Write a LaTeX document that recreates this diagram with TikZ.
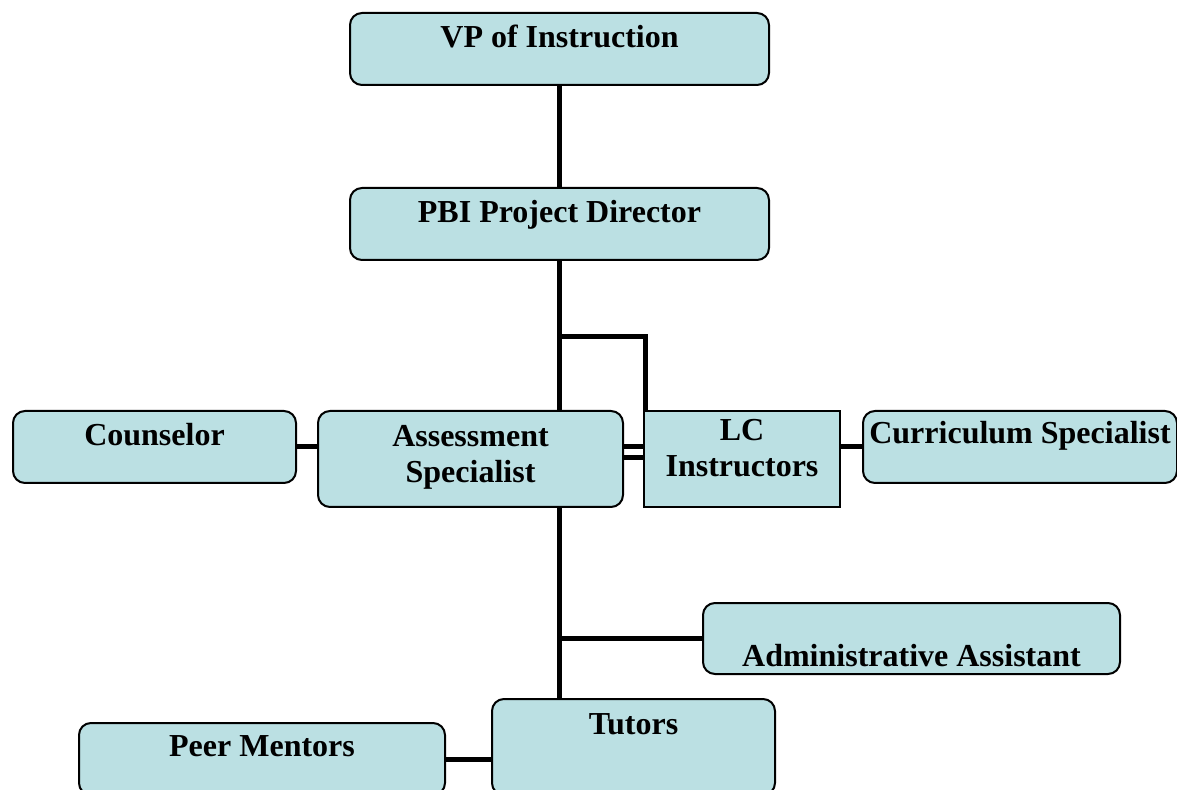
\documentclass[tikz,border=0pt]{standalone}
\usepackage{fontspec}
\setmainfont{Liberation Serif}
\usepackage{xcolor}
\usetikzlibrary{backgrounds}
\definecolor{boxblue}{RGB}{187,224,227}
\tikzset{%
  post/.style={draw=black, fill=boxblue, line width=1pt, inner sep=0pt,
    anchor=north west, font=\fontsize{16}{18}\selectfont\bfseries},
  roundpost/.style={post, rounded corners=6pt},
  link/.style={line width=2.5pt}
}

\begin{document}
\begin{tikzpicture}[x=0.5pt,y=-0.5pt]
\useasboundingbox (0,0) rectangle (1177,790);
\clip (0,0) rectangle (1177,790);
% boxes
\node[roundpost, minimum width=209.5pt, text height=17.5pt, text depth=18.5pt] (vp) at (349,12) {VP of Instruction};
\node[roundpost, minimum width=209.5pt, text height=17.5pt, text depth=18.5pt] (pbi) at (349,187) {PBI Project Director};
\node[roundpost, minimum width=141.5pt, text height=17.5pt, text depth=18.5pt] (counsel) at (12,410) {Counselor};
\node[roundpost, minimum width=152.5pt, text height=18pt, text depth=30pt] (assess) at (317,410)
  {\begin{tabular}[t]{@{}c@{}}Assessment\\Specialist\end{tabular}};
\node[post, minimum width=98pt, text height=15pt, text depth=33pt] (lc) at (643,410)
  {\begin{tabular}[t]{@{}c@{}}LC\\Instructors\end{tabular}};
\node[roundpost, minimum width=157pt, text height=16.5pt, text depth=19.5pt] (curric) at (862,410) {Curriculum Specialist};
\node[roundpost, minimum width=208.5pt, text height=31.5pt, text depth=4pt] (admin) at (702,602) {Administrative Assistant};
\node[roundpost, minimum width=141.5pt, text height=17.5pt, text depth=30.5pt] (tutors) at (491,698) {Tutors};
\node[roundpost, minimum width=183pt, text height=16.5pt, text depth=19.5pt] (peer) at (78,722) {Peer Mentors};
% connectors
\begin{scope}[on background layer]
\draw[link] (vp) -- (pbi);
\draw[link] (pbi.south) -- (pbi.south |- tutors.north);
\draw[link] (pbi.south) ++(0,76) -| ([xshift=1pt]lc.north west);
\draw[link] (counsel.east) -- (counsel.east -| assess.west);
\draw[link, double=white, double distance=3pt] ([yshift=3.25pt]assess.east) -- ([yshift=3.25pt]lc.west);
\draw[link] (lc.east |- curric.west) -- (curric.west);
\draw[link] (pbi.south |- admin.west) -- (admin.west);
\draw[link] (peer.east) -- (peer.east -| tutors.west);
\end{scope}
\end{tikzpicture}
\end{document}
